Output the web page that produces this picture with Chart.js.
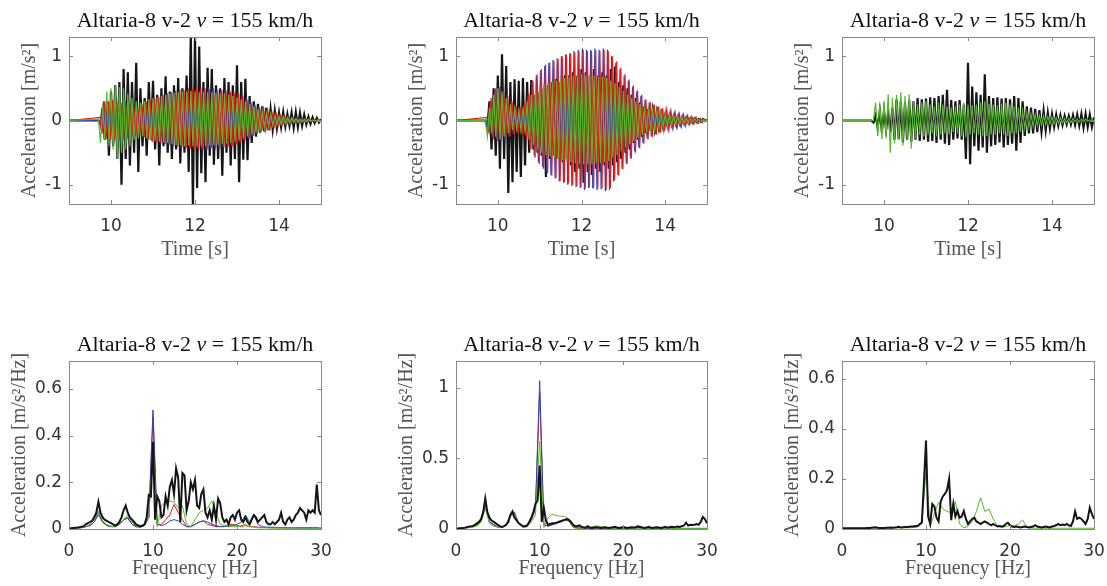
<!DOCTYPE html>
<html>
<head>
<meta charset="utf-8">
<script src="https://cdn.jsdelivr.net/npm/chart.js@4.4.1/dist/chart.umd.min.js"></script>
<style>
  html, body { margin: 0; padding: 0; background: #fff; overflow: hidden; width: 1107px; height: 586px; }
</style>
</head>
<body>
<script>
// ---- axes ----
const timeRange = [9, 15]
const timeTicks = [10, 12, 14]
const accRange = [-1.3, 1.3]
const accTicks = [-1, 0, 1]
const freqRange = [0, 30]
const freqTicks = [0, 10, 20, 30]
const psdRanges = [[0, 0.72], [0, 1.19], [0, 0.67]]
const psdTicks = [[0, 0.2, 0.4, 0.6], [0, 0.5, 1], [0, 0.2, 0.4, 0.6]]

const titleParts = ["Altaria-8 v-2 ", "v", " = 155 km/h"]
const timeLabel = "Time [s]"
const freqLabel = "Frequency [Hz]"
const accLabel = "Acceleration [m/s\u00B2]"
const psdLabel = "Acceleration [m/s\u00B2/Hz]"

// ---- time signals, sampled every 0.05 s (peak to peak) ----
const dt = 0.05
const accStarts1 = [9.70, 9.72, 9.74, 9.70]  // black, blue, red, green
const accBlack1 = [
  0.0, -0.05, 0.2, -0.3, 0.3, -0.55, 0.45, -0.4, 0.55, -0.6,
  0.6, -1.0, 0.8, -0.6, 0.75, -0.7, 0.6, -0.5, 0.9, -0.8,
  0.5, -0.4, 0.35, -0.55, 0.6, -0.3, 0.62, -0.45, 0.4, -0.7,
  0.5, -0.4, 0.69, -0.5, 0.45, -0.6, 0.55, -0.45, 0.66, -0.67,
  0.5, -0.5, 0.7, -0.8, 1.35, -1.35, 1.35, -1.05, 1.15, -0.82,
  0.6, -0.96, 0.82, -0.55, 0.8, -0.69, 0.55, -0.6, 0.5, -0.86,
  0.66, -0.5, 0.6, -0.7, 0.55, -0.6, 0.86, -0.96, 0.6, -0.61,
  0.65, -0.62, 0.38, -0.35, 0.3, -0.25, 0.26, -0.19, 0.22, -0.17,
  0.2, -0.15, 0.18, -0.14, 0.15, -0.12, 0.12, -0.1, 0.13, -0.09,
  0.1, -0.08, 0.12, -0.11, 0.13, -0.1, 0.12, -0.08, 0.09, -0.06,
  0.06, -0.05, 0.05, -0.04, 0.04, -0.03, 0.02
]
const accBlue1 = [
  0.0, -0.15, 0.3, -0.3, 0.25, -0.3, 0.3, -0.35, 0.35, -0.3,
  0.3, -0.35, 0.3, -0.3, 0.28, -0.28, 0.25, -0.25, 0.22, -0.2,
  0.25, -0.25, 0.3, -0.3, 0.33, -0.32, 0.35, -0.33, 0.36, -0.35,
  0.38, -0.36, 0.4, -0.38, 0.42, -0.38, 0.44, -0.4, 0.46, -0.42,
  0.46, -0.42, 0.47, -0.43, 0.48, -0.44, 0.48, -0.44, 0.47, -0.45,
  0.48, -0.45, 0.5, -0.44, 0.48, -0.42, 0.48, -0.43, 0.47, -0.42,
  0.48, -0.4, 0.46, -0.4, 0.44, -0.38, 0.42, -0.35, 0.4, -0.32,
  0.35, -0.28, 0.3, -0.25, 0.25, -0.2, 0.2, -0.17, 0.16, -0.14,
  0.13, -0.11, 0.11, -0.09, 0.09, -0.07, 0.07, -0.06, 0.06, -0.05,
  0.05, -0.04, 0.04, -0.03, 0.03, -0.03, 0.02, -0.02, 0.02, -0.02,
  0.01, -0.01, 0.01, -0.01, 0.01, 0.0
]
const accRed1 = [
  0.05, -0.2, 0.3, -0.28, 0.3, -0.3, 0.32, -0.3, 0.3, -0.3,
  0.28, -0.3, 0.3, -0.28, 0.25, -0.26, 0.22, -0.22, 0.2, -0.22,
  0.25, -0.26, 0.3, -0.3, 0.32, -0.33, 0.35, -0.34, 0.37, -0.35,
  0.4, -0.37, 0.42, -0.38, 0.44, -0.4, 0.46, -0.41, 0.48, -0.42,
  0.47, -0.43, 0.5, -0.44, 0.49, -0.45, 0.52, -0.44, 0.5, -0.46,
  0.5, -0.45, 0.49, -0.43, 0.5, -0.44, 0.48, -0.43, 0.47, -0.42,
  0.47, -0.41, 0.45, -0.4, 0.43, -0.37, 0.42, -0.35, 0.38, -0.32,
  0.33, -0.28, 0.28, -0.24, 0.23, -0.2, 0.19, -0.16, 0.15, -0.13,
  0.12, -0.11, 0.1, -0.09, 0.09, -0.07, 0.07, -0.06, 0.06, -0.05,
  0.05, -0.04, 0.04, -0.03, 0.03, -0.03, 0.02, -0.02, 0.02, -0.02,
  0.01, -0.01, 0.01, -0.01, 0.01, -0.005
]
const accGreen1 = [
  0.02, -0.35, 0.25, -0.3, 0.45, -0.4, 0.5, -0.45, 0.55, -0.6,
  0.52, -0.5, 0.5, -0.45, 0.42, -0.4, 0.35, -0.3, 0.3, -0.28,
  0.28, -0.25, 0.3, -0.28, 0.33, -0.3, 0.35, -0.32, 0.36, -0.33,
  0.38, -0.34, 0.4, -0.35, 0.42, -0.36, 0.43, -0.38, 0.44, -0.38,
  0.45, -0.4, 0.45, -0.39, 0.46, -0.4, 0.45, -0.41, 0.44, -0.4,
  0.45, -0.4, 0.44, -0.39, 0.44, -0.38, 0.43, -0.38, 0.42, -0.37,
  0.42, -0.36, 0.4, -0.35, 0.38, -0.33, 0.36, -0.31, 0.33, -0.28,
  0.3, -0.25, 0.26, -0.22, 0.22, -0.19, 0.18, -0.15, 0.15, -0.12,
  0.12, -0.1, 0.1, -0.08, 0.08, -0.07, 0.07, -0.06, 0.06, -0.05,
  0.05, -0.04, 0.04, -0.03, 0.03, -0.03, 0.02, -0.02, 0.02, -0.02,
  0.02, -0.01, 0.01, -0.01, 0.01, -0.01, 0.005
]

const accStarts2 = [9.70, 9.72, 9.74, 9.70]
const accBlack2 = [
  0.0, -0.1, 0.3, -0.45, 0.5, -0.55, 0.7, -0.75, 1.03, -0.6,
  0.85, -1.13, 0.6, -0.96, 0.64, -0.8, 0.62, -0.88, 0.66, -0.7,
  0.6, -0.5, 0.63, -0.45, 0.4, -0.5, 0.45, -0.55, 0.5, -0.88,
  0.55, -0.6, 0.6, -0.55, 0.65, -0.6, 0.6, -0.65, 0.7, -0.6,
  0.7, -0.7, 0.75, -0.8, 0.7, -0.75, 0.8, -0.97, 0.75, -0.8,
  0.7, -0.85, 0.8, -0.75, 0.7, -0.8, 0.75, -0.7, 0.7, -0.75,
  0.8, -0.7, 0.84, -0.65, 0.6, -0.6, 0.55, -0.5, 0.5, -0.45,
  0.4, -0.35, 0.35, -0.3, 0.28, -0.25, 0.22, -0.2, 0.18, -0.16,
  0.15, -0.13, 0.12, -0.11, 0.1, -0.09, 0.08, -0.07, 0.07, -0.06,
  0.06, -0.05, 0.05, -0.05, 0.04, -0.04, 0.04, -0.03, 0.03, -0.03,
  0.03, -0.02, 0.02, -0.02, 0.02, -0.01, 0.01
]
const accBlue2 = [
  0.0, -0.15, 0.3, -0.25, 0.45, -0.3, 0.5, -0.3, 0.45, -0.3,
  0.4, -0.25, 0.3, -0.2, 0.22, -0.18, 0.2, -0.2, 0.25, -0.25,
  0.4, -0.4, 0.6, -0.55, 0.7, -0.65, 0.78, -0.72, 0.85, -0.8,
  0.9, -0.85, 0.94, -0.9, 0.97, -0.95, 1.0, -0.97, 1.03, -1.0,
  1.05, -1.02, 1.08, -1.04, 1.1, -1.05, 1.12, -1.08, 1.1, -1.05,
  1.1, -1.06, 1.12, -1.08, 1.1, -1.07, 1.12, -1.1, 1.1, -1.08,
  1.0, -0.95, 0.9, -0.85, 0.8, -0.75, 0.7, -0.67, 0.62, -0.58,
  0.52, -0.48, 0.45, -0.42, 0.38, -0.35, 0.32, -0.28, 0.28, -0.25,
  0.24, -0.21, 0.21, -0.18, 0.18, -0.15, 0.15, -0.13, 0.13, -0.11,
  0.11, -0.1, 0.09, -0.08, 0.08, -0.07, 0.07, -0.06, 0.05, -0.05,
  0.04, -0.04, 0.03, -0.03, 0.02, -0.01
]
const accRed2 = [
  0.05, -0.2, 0.35, -0.3, 0.5, -0.32, 0.52, -0.3, 0.45, -0.28,
  0.38, -0.25, 0.3, -0.22, 0.22, -0.2, 0.2, -0.22, 0.28, -0.3,
  0.42, -0.45, 0.62, -0.58, 0.72, -0.68, 0.8, -0.75, 0.87, -0.82,
  0.9, -0.86, 0.93, -0.9, 0.96, -0.94, 1.0, -0.96, 1.02, -0.98,
  1.04, -1.0, 1.06, -1.02, 1.08, -1.04, 1.1, -1.06, 1.08, -1.04,
  1.08, -1.05, 1.1, -1.06, 1.08, -1.06, 1.1, -1.08, 1.08, -1.05,
  1.0, -0.93, 0.92, -0.86, 0.82, -0.76, 0.72, -0.68, 0.64, -0.6,
  0.55, -0.5, 0.47, -0.43, 0.4, -0.36, 0.33, -0.3, 0.29, -0.26,
  0.25, -0.22, 0.22, -0.19, 0.19, -0.16, 0.16, -0.14, 0.14, -0.12,
  0.12, -0.1, 0.1, -0.09, 0.09, -0.08, 0.07, -0.06, 0.06, -0.05,
  0.05, -0.04, 0.03, -0.03, 0.02, -0.01
]
const accGreen2 = [
  0.0, -0.25, 0.2, -0.2, 0.4, -0.25, 0.5, -0.3, 0.45, -0.25,
  0.35, -0.2, 0.25, -0.15, 0.18, -0.12, 0.15, -0.15, 0.2, -0.2,
  0.3, -0.3, 0.4, -0.38, 0.48, -0.45, 0.52, -0.5, 0.56, -0.54,
  0.58, -0.56, 0.6, -0.58, 0.62, -0.6, 0.64, -0.62, 0.66, -0.64,
  0.68, -0.65, 0.7, -0.66, 0.7, -0.67, 0.72, -0.68, 0.7, -0.68,
  0.7, -0.68, 0.7, -0.67, 0.68, -0.66, 0.68, -0.65, 0.66, -0.63,
  0.62, -0.58, 0.58, -0.54, 0.52, -0.48, 0.46, -0.42, 0.4, -0.37,
  0.35, -0.32, 0.3, -0.27, 0.26, -0.23, 0.22, -0.19, 0.19, -0.16,
  0.16, -0.14, 0.14, -0.12, 0.12, -0.1, 0.1, -0.09, 0.09, -0.07,
  0.07, -0.06, 0.06, -0.05, 0.05, -0.04, 0.04, -0.04, 0.03, -0.03,
  0.03, -0.02, 0.02, -0.02, 0.01, -0.01, 0.005
]

const accStarts3 = [9.70, 9.75]  // black, green
const accBlack3 = [
  0.0, -0.03, 0.08, -0.12, 0.15, -0.18, 0.15, -0.15, 0.12, -0.18,
  0.2, -0.3, 0.33, -0.29, 0.3, -0.34, 0.28, -0.3, 0.32, -0.33,
  0.3, -0.3, 0.35, -0.32, 0.33, -0.3, 0.34, -0.33, 0.36, -0.32,
  0.35, -0.35, 0.38, -0.3, 0.4, -0.36, 0.48, -0.38, 0.32, -0.3,
  0.3, -0.28, 0.32, -0.3, 0.25, -0.6, 0.9, -0.68, 0.53, -0.4,
  0.44, -0.47, 0.4, -0.42, 0.72, -0.5, 0.38, -0.4, 0.35, -0.38,
  0.36, -0.34, 0.34, -0.42, 0.35, -0.38, 0.33, -0.36, 0.38, -0.47,
  0.35, -0.35, 0.3, -0.24, 0.22, -0.2, 0.2, -0.2, 0.18, -0.18,
  0.16, -0.17, 0.15, -0.15, 0.12, -0.12, 0.1, -0.1, 0.09, -0.08,
  0.08, -0.07, 0.07, -0.06, 0.07, -0.06, 0.08, -0.07, 0.09, -0.08,
  0.1, -0.11, 0.1, -0.1, 0.09, -0.1, 0.05
]
const accGreen3 = [
  0.0, 0.28, -0.24, 0.25, -0.29, 0.3, -0.25, 0.41, -0.5, 0.35,
  -0.35, 0.4, -0.3, 0.44, -0.39, 0.38, -0.3, 0.41, -0.44, 0.3,
  -0.28, 0.25, -0.22, 0.28, -0.25, 0.3, -0.22, 0.25, -0.2, 0.22,
  -0.25, 0.28, -0.22, 0.25, -0.2, 0.22, -0.22, 0.2, -0.18, 0.22,
  -0.2, 0.25, -0.25, 0.28, -0.26, 0.25, -0.22, 0.24, -0.2, 0.25,
  -0.22, 0.28, -0.25, 0.3, -0.24, 0.26, -0.22, 0.25, -0.22, 0.24,
  -0.2, 0.26, -0.22, 0.28, -0.24, 0.25, -0.2, 0.22, -0.2, 0.2,
  -0.18, 0.15, -0.12, 0.12, -0.1, 0.1, -0.09, 0.09, -0.08, 0.08,
  -0.07, 0.07, -0.06, 0.06, -0.05, 0.05, -0.05, 0.04, -0.04, 0.04,
  -0.04, 0.03, -0.03, 0.03, -0.03, 0.03, -0.02, 0.02, -0.02, 0.02,
  -0.02, 0.02, -0.01, 0.01, -0.01, 0.005
]

// ---- spectra: black on a 0.25 Hz grid, colours on a 0.5 Hz grid, from 0 Hz ----
const dfFine = 0.25
const dfCoarse = 0.5
const psdBlack1 = [
  0.002, 0.003, 0.004, 0.005, 0.006, 0.008, 0.01, 0.012, 0.02, 0.025,
  0.03, 0.035, 0.05, 0.07, 0.117, 0.07, 0.05, 0.04, 0.035, 0.03,
  0.025, 0.02, 0.015, 0.02, 0.03, 0.05, 0.08, 0.1, 0.07, 0.05,
  0.04, 0.03, 0.02, 0.015, 0.012, 0.015, 0.02, 0.05, 0.146, 0.14,
  0.374, 0.04, 0.14, 0.12, 0.05, 0.06, 0.14, 0.1, 0.18, 0.21,
  0.15, 0.26, 0.22, 0.03, 0.24, 0.23, 0.08, 0.12, 0.2, 0.17,
  0.21, 0.1, 0.09, 0.15, 0.17, 0.07, 0.05, 0.08, 0.04, 0.1,
  0.04, 0.13, 0.11, 0.05, 0.03, 0.04, 0.02, 0.05, 0.06, 0.04,
  0.07, 0.08, 0.04, 0.03, 0.05, 0.03, 0.02, 0.04, 0.06, 0.05,
  0.03, 0.04, 0.05, 0.06, 0.03, 0.02, 0.02, 0.03, 0.02, 0.03,
  0.04, 0.07, 0.03, 0.02, 0.04, 0.05, 0.03, 0.04, 0.06, 0.07,
  0.09, 0.08, 0.07, 0.04, 0.08, 0.07, 0.08, 0.07, 0.19, 0.08,
  0.06
]
const psdBlue1 = [
  0.002, 0.003, 0.004, 0.006, 0.01, 0.015, 0.03, 0.07, 0.03, 0.015,
  0.01, 0.01, 0.02, 0.04, 0.05, 0.02, 0.01, 0.008, 0.015, 0.05,
  0.51, 0.02, 0.015, 0.02, 0.035, 0.04, 0.035, 0.02, 0.01, 0.01,
  0.02, 0.03, 0.035, 0.03, 0.02, 0.015, 0.01, 0.01, 0.012, 0.015,
  0.02, 0.03, 0.06, 0.03, 0.06, 0.02, 0.01, 0.008, 0.008, 0.007,
  0.006, 0.006, 0.005, 0.005, 0.004, 0.004, 0.004, 0.003, 0.003, 0.003,
  0.003
]
const psdRed1 = [
  0.002, 0.003, 0.004, 0.006, 0.01, 0.015, 0.03, 0.06, 0.03, 0.015,
  0.01, 0.01, 0.02, 0.04, 0.045, 0.02, 0.01, 0.008, 0.015, 0.05,
  0.48, 0.02, 0.02, 0.04, 0.06, 0.105, 0.07, 0.04, 0.01, 0.01,
  0.02, 0.03, 0.035, 0.02, 0.015, 0.01, 0.01, 0.012, 0.02, 0.02,
  0.015, 0.01, 0.015, 0.01, 0.01, 0.008, 0.007, 0.006, 0.006, 0.005,
  0.005, 0.005, 0.005, 0.005, 0.005, 0.006, 0.006, 0.006, 0.007, 0.006,
  0.004
]
const psdGreen1 = [
  0.002, 0.003, 0.004, 0.006, 0.01, 0.02, 0.04, 0.08, 0.035, 0.02,
  0.012, 0.01, 0.02, 0.04, 0.06, 0.03, 0.012, 0.01, 0.02, 0.05,
  0.35, 0.01, 0.1, 0.115, 0.12, 0.115, 0.09, 0.1, 0.02, 0.01,
  0.04, 0.07, 0.08, 0.09, 0.12, 0.07, 0.02, 0.015, 0.01, 0.01,
  0.01, 0.015, 0.02, 0.01, 0.008, 0.005, 0.005, 0.005, 0.004, 0.004,
  0.004, 0.004, 0.004, 0.004, 0.004, 0.004, 0.004, 0.003, 0.003, 0.003,
  0.003
]

const psdBlack2 = [
  0.003, 0.004, 0.005, 0.006, 0.008, 0.01, 0.015, 0.018, 0.02, 0.03,
  0.04, 0.05, 0.07, 0.12, 0.217, 0.12, 0.08, 0.06, 0.05, 0.04,
  0.03, 0.02, 0.015, 0.02, 0.03, 0.05, 0.1, 0.125, 0.08, 0.06,
  0.04, 0.03, 0.02, 0.02, 0.025, 0.05, 0.08, 0.12, 0.18, 0.2,
  0.45, 0.05, 0.15, 0.06, 0.03, 0.035, 0.04, 0.04, 0.045, 0.05,
  0.055, 0.06, 0.065, 0.07, 0.065, 0.05, 0.03, 0.02, 0.02, 0.025,
  0.015, 0.012, 0.01, 0.02, 0.01, 0.008, 0.01, 0.012, 0.01, 0.008,
  0.01, 0.012, 0.01, 0.008, 0.01, 0.012, 0.015, 0.01, 0.008, 0.01,
  0.012, 0.01, 0.008, 0.01, 0.012, 0.01, 0.012, 0.02, 0.012, 0.01,
  0.008, 0.01, 0.015, 0.01, 0.008, 0.01, 0.012, 0.01, 0.008, 0.01,
  0.015, 0.01, 0.012, 0.015, 0.012, 0.015, 0.018, 0.015, 0.02, 0.025,
  0.045, 0.025, 0.03, 0.028, 0.03, 0.035, 0.03, 0.05, 0.085, 0.07,
  0.04
]
const psdBlue2 = [
  0.003, 0.005, 0.01, 0.02, 0.02, 0.03, 0.06, 0.17, 0.05, 0.03,
  0.015, 0.01, 0.03, 0.1, 0.12, 0.04, 0.015, 0.02, 0.07, 0.15,
  1.05, 0.03, 0.02, 0.03, 0.04, 0.05, 0.07, 0.06, 0.015, 0.008,
  0.006, 0.006, 0.006, 0.008, 0.01, 0.006, 0.005, 0.005, 0.005, 0.005,
  0.005, 0.006, 0.008, 0.01, 0.02, 0.006, 0.005, 0.004, 0.004, 0.004,
  0.004, 0.004, 0.004, 0.004, 0.004, 0.004, 0.004, 0.004, 0.004, 0.004,
  0.004
]
const psdRed2 = [
  0.003, 0.005, 0.01, 0.018, 0.02, 0.03, 0.055, 0.15, 0.05, 0.03,
  0.015, 0.01, 0.03, 0.09, 0.11, 0.04, 0.015, 0.02, 0.065, 0.14,
  0.97, 0.03, 0.02, 0.03, 0.04, 0.05, 0.065, 0.055, 0.012, 0.006,
  0.005, 0.005, 0.005, 0.006, 0.008, 0.005, 0.004, 0.004, 0.004, 0.004,
  0.004, 0.005, 0.006, 0.008, 0.012, 0.005, 0.004, 0.004, 0.004, 0.004,
  0.004, 0.004, 0.004, 0.004, 0.004, 0.004, 0.004, 0.004, 0.004, 0.004,
  0.004
]
const psdGreen2 = [
  0.003, 0.005, 0.01, 0.015, 0.015, 0.02, 0.05, 0.15, 0.04, 0.02,
  0.012, 0.01, 0.03, 0.09, 0.11, 0.04, 0.012, 0.015, 0.05, 0.1,
  0.62, 0.01, 0.08, 0.105, 0.095, 0.09, 0.09, 0.07, 0.01, 0.006,
  0.006, 0.008, 0.01, 0.02, 0.022, 0.01, 0.006, 0.005, 0.005, 0.005,
  0.005, 0.005, 0.005, 0.005, 0.005, 0.005, 0.004, 0.004, 0.004, 0.004,
  0.004, 0.004, 0.004, 0.004, 0.004, 0.004, 0.004, 0.004, 0.004, 0.004,
  0.004
]

const psdBlack3 = [
  0.003, 0.003, 0.003, 0.003, 0.003, 0.003, 0.003, 0.003, 0.003, 0.003,
  0.003, 0.003, 0.004, 0.004, 0.005, 0.006, 0.007, 0.005, 0.004, 0.004,
  0.004, 0.005, 0.005, 0.006, 0.005, 0.006, 0.007, 0.009, 0.006, 0.007,
  0.008, 0.008, 0.009, 0.01, 0.01, 0.012, 0.012, 0.02, 0.025, 0.18,
  0.353, 0.05, 0.02, 0.1, 0.09, 0.045, 0.03, 0.11, 0.13, 0.14,
  0.155, 0.2, 0.035, 0.1, 0.05, 0.072, 0.045, 0.05, 0.072, 0.04,
  0.02, 0.03, 0.04, 0.045, 0.03, 0.025, 0.02, 0.025, 0.03, 0.025,
  0.02, 0.015, 0.02, 0.015, 0.01, 0.012, 0.01, 0.012, 0.02, 0.025,
  0.015, 0.01, 0.008, 0.01, 0.008, 0.006, 0.008, 0.01, 0.008, 0.006,
  0.008, 0.01, 0.015, 0.01, 0.008, 0.006, 0.008, 0.01, 0.008, 0.006,
  0.01, 0.012, 0.015, 0.02, 0.015, 0.018, 0.015, 0.02, 0.015, 0.012,
  0.03, 0.07, 0.04, 0.045, 0.04, 0.03, 0.02, 0.04, 0.085, 0.06,
  0.04
]
const psdGreen3 = [
  0.002, 0.002, 0.003, 0.003, 0.003, 0.003, 0.004, 0.004, 0.004, 0.004,
  0.004, 0.004, 0.004, 0.005, 0.005, 0.005, 0.005, 0.006, 0.008, 0.02,
  0.23, 0.01, 0.06, 0.106, 0.08, 0.07, 0.065, 0.11, 0.02, 0.005,
  0.01, 0.03, 0.07, 0.125, 0.07, 0.08, 0.04, 0.015, 0.005, 0.01,
  0.015, 0.012, 0.02, 0.036, 0.008, 0.004, 0.003, 0.003, 0.003, 0.003,
  0.003, 0.003, 0.003, 0.003, 0.003, 0.003, 0.003, 0.003, 0.003, 0.003,
  0.003
]

// ---- look ----
const BLACK = "#151515"
const BLUE = "#2a44b8"
const RED = "#f01818"
const GREEN = "#55b82e"
const tickFont = { family: "DejaVu Sans", size: 17 }
const serifFont = { family: "Liberation Serif", size: 20 }
const PAD_T = 34
const PAD_R = 26  // room for the last x tick label plus tick padding

function timePoints(values, t0) {
  const pts = [{ x: timeRange[0], y: 0 }]
  values.forEach((v, i) => pts.push({ x: +(t0 + i * dt).toFixed(3), y: v }))
  return pts
}

function freqPoints(values, df) {
  return values.map((v, i) => ({ x: +(i * df).toFixed(3), y: v }))
}

function line(points, color, width) {
  return { data: points, borderColor: color, borderWidth: width, pointRadius: 0, tension: 0, fill: false }
}

const frame = {
  id: "frame",
  afterDraw(chart) {
    const { ctx, chartArea: a, scales } = chart
    ctx.save()
    ctx.strokeStyle = "#8a8a8a"
    ctx.lineWidth = 1
    ctx.strokeRect(Math.round(a.left) + 0.5, Math.round(a.top) + 0.5, Math.round(a.width), Math.round(a.height))
    ctx.beginPath()
    scales.x.ticks.forEach(t => {
      const px = Math.round(scales.x.getPixelForValue(t.value)) + 0.5
      ctx.moveTo(px, a.bottom); ctx.lineTo(px, a.bottom - 4)
      ctx.moveTo(px, a.top); ctx.lineTo(px, a.top + 4)
    })
    scales.y.ticks.forEach(t => {
      const py = Math.round(scales.y.getPixelForValue(t.value)) + 0.5
      ctx.moveTo(a.left, py); ctx.lineTo(a.left + 4, py)
      ctx.moveTo(a.right, py); ctx.lineTo(a.right - 4, py)
    })
    ctx.stroke()

    // title with italic v
    const fonts = ["20px 'Liberation Serif'", "italic 20px 'Liberation Serif'", "20px 'Liberation Serif'"]
    let total = 0
    const widths = titleParts.map((s, i) => { ctx.font = fonts[i]; const w = ctx.measureText(s).width; total += w; return w })
    const sx = 1.1
    const cx = (a.left + a.right) / 2
    ctx.translate(cx, a.top - 10)
    ctx.scale(sx, 1)
    ctx.fillStyle = "#111"
    ctx.textBaseline = "alphabetic"
    let x = -total / 2
    titleParts.forEach((s, i) => { ctx.font = fonts[i]; ctx.fillText(s, x, 0); x += widths[i] })
    ctx.restore()
  }
}

function makeChart(p) {
  const [L, T, R, B] = p.box
  const w = p.yw + (R - L) + PAD_R
  const h = PAD_T + (B - T) + p.xh
  const c = document.createElement("canvas")
  c.width = w
  c.height = h
  c.style.cssText = `position:absolute;left:${L - p.yw}px;top:${T - PAD_T}px;width:${w}px;height:${h}px`
  document.body.appendChild(c)

  new Chart(c, {
    type: "line",
    data: { datasets: p.datasets },
    options: {
      responsive: false,
      animation: false,
      events: [],
      layout: { padding: { top: PAD_T, right: PAD_R, left: 0, bottom: 0 } },
      plugins: { legend: { display: false }, tooltip: { enabled: false } },
      scales: {
        x: {
          type: "linear", min: p.xRange[0], max: p.xRange[1],
          afterBuildTicks: s => { s.ticks = p.xTicks.map(v => ({ value: v })) },
          afterFit: s => { s.height = p.xh },
          grid: { display: false, drawTicks: false },
          border: { display: false },
          ticks: { font: tickFont, color: "#333", padding: 12, maxRotation: 0, autoSkip: false, callback: v => String(v) },
          title: { display: true, text: p.xLabel, font: serifFont, color: "#555", padding: 0 }
        },
        y: {
          type: "linear", min: p.yRange[0], max: p.yRange[1],
          afterBuildTicks: s => { s.ticks = p.yTicks.map(v => ({ value: v })) },
          afterFit: s => { s.width = p.yw },
          grid: { display: false, drawTicks: false },
          border: { display: false },
          ticks: { font: tickFont, color: "#333", padding: 7, autoSkip: false, callback: v => String(v) },
          title: { display: true, text: p.yLabel, font: serifFont, color: "#555", padding: 0 }
        }
      }
    },
    plugins: [frame]
  })
}

const cols = [[69, 321], [456, 707], [842, 1094]]
const topRow = [37, 204]
const bottomRow = [361, 529]

const timeSets = [
  [line(timePoints(accGreen1, accStarts1[3]), GREEN, 1.2),
   line(timePoints(accRed1, accStarts1[2]), RED, 1.2),
   line(timePoints(accBlue1, accStarts1[1]), BLUE, 1.2),
   line(timePoints(accBlack1, accStarts1[0]), BLACK, 2.2)],
  [line(timePoints(accGreen2, accStarts2[3]), GREEN, 1.2),
   line(timePoints(accRed2, accStarts2[2]), RED, 1.2),
   line(timePoints(accBlue2, accStarts2[1]), BLUE, 1.2),
   line(timePoints(accBlack2, accStarts2[0]), BLACK, 2.2)],
  [line(timePoints(accGreen3, accStarts3[1]), GREEN, 1.2),
   line(timePoints(accBlack3, accStarts3[0]), BLACK, 2.2)]
]

const freqSets = [
  [line(freqPoints(psdBlack1, dfFine), BLACK, 2),
   line(freqPoints(psdGreen1, dfCoarse), GREEN, 1),
   line(freqPoints(psdBlue1, dfCoarse), BLUE, 1),
   line(freqPoints(psdRed1, dfCoarse), RED, 1)],
  [line(freqPoints(psdBlack2, dfFine), BLACK, 2),
   line(freqPoints(psdGreen2, dfCoarse), GREEN, 1),
   line(freqPoints(psdBlue2, dfCoarse), BLUE, 1),
   line(freqPoints(psdRed2, dfCoarse), RED, 1)],
  [line(freqPoints(psdBlack3, dfFine), BLACK, 2),
   line(freqPoints(psdGreen3, dfCoarse), GREEN, 1)]
]

cols.forEach((col, i) => {
  makeChart({
    box: [col[0], topRow[0], col[1], topRow[1]], yw: 51, xh: 58,
    datasets: timeSets[i],
    xRange: timeRange, xTicks: timeTicks, xLabel: timeLabel,
    yRange: accRange, yTicks: accTicks, yLabel: accLabel
  })
  makeChart({
    box: [col[0], bottomRow[0], col[1], bottomRow[1]], yw: 61, xh: 52,
    datasets: freqSets[i],
    xRange: freqRange, xTicks: freqTicks, xLabel: freqLabel,
    yRange: psdRanges[i], yTicks: psdTicks[i], yLabel: psdLabel
  })
})
</script>
</body>
</html>
